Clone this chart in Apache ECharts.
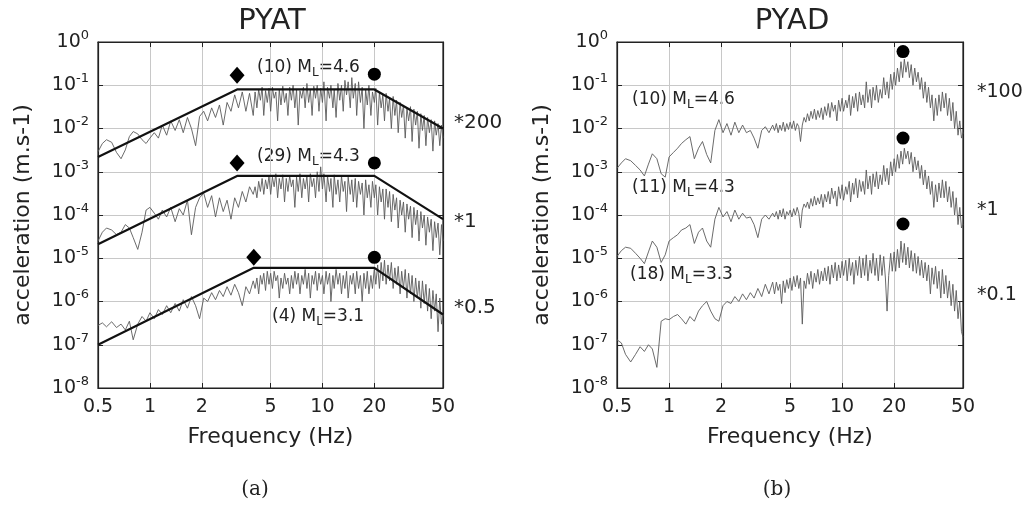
<!DOCTYPE html>
<html>
<head>
<meta charset="utf-8">
<script src="https://cdn.jsdelivr.net/npm/echarts@6/dist/echarts.min.js"></script>
<style>
  html, body { margin: 0; padding: 0; background: #fff; }
  #chart { width: 1023px; height: 526px; }
</style>
</head>
<body>
<div id="chart"></div>
<script>
// frequency samples (Hz), shared by every spectrum; denser above 4 Hz
const freq = [
  0.50, 0.53, 0.56, 0.60, 0.64, 0.68, 0.72, 0.76, 0.80, 0.85, 0.90, 0.95,
  1.00, 1.06, 1.12, 1.18, 1.25, 1.32, 1.40, 1.48, 1.56, 1.65, 1.74, 1.84, 1.94,
  2.05, 2.16, 2.28, 2.40, 2.53, 2.66, 2.80, 2.95, 3.10, 3.26, 3.43, 3.60, 3.78, 3.97,
  4.07, 4.17, 4.27, 4.37, 4.47, 4.57, 4.68, 4.79, 4.90,
  5.01, 5.13, 5.25, 5.37, 5.50, 5.62, 5.75, 5.89, 6.03, 6.17,
  6.31, 6.46, 6.61, 6.76, 6.92, 7.08, 7.24, 7.41, 7.59, 7.76,
  7.94, 8.13, 8.32, 8.51, 8.71, 8.91, 9.12, 9.33, 9.55, 9.77,
  10.0, 10.2, 10.5, 10.7, 11.0, 11.2, 11.5, 11.7, 12.0, 12.3,
  12.6, 12.9, 13.2, 13.5, 13.8, 14.1, 14.5, 14.8, 15.1, 15.5,
  15.8, 16.2, 16.6, 17.0, 17.4, 17.8, 18.2, 18.6, 19.1, 19.5,
  20.0, 20.4, 20.9, 21.4, 21.9, 22.4, 22.9, 23.4, 24.0, 24.5,
  25.1, 25.7, 26.3, 26.9, 27.5, 28.2, 28.8, 29.5, 30.2, 30.9,
  31.6, 32.4, 33.1, 33.9, 34.7, 35.5, 36.3, 37.2, 38.0, 38.9,
  39.8, 40.7, 41.7, 42.7, 43.7, 44.7, 45.7, 46.8, 47.9, 49.0,
  50.0
]

// PYAT spectra (already multiplied by *200, *1, *0.5)
const pyatM46 = [
  2.9e-3, 4.5e-3, 5.5e-3, 4.8e-3, 2.8e-3, 2.0e-3, 3.2e-3, 6.5e-3, 8.5e-3, 7.5e-3, 5.5e-3, 4.5e-3,
  6.0e-3, 8.0e-3, 6.0e-3, 1.2e-2, 7.0e-3, 1.5e-2, 9.0e-3, 1.6e-2, 8.0e-3, 1.8e-2, 1.0e-2, 4.0e-3, 1.9e-2,
  2.5e-2, 1.5e-2, 3.0e-2, 1.8e-2, 3.5e-2, 1.2e-2, 4.0e-2, 2.5e-2, 6.0e-2, 3.0e-2, 7.0e-2, 2.5e-2, 6.5e-2, 2.0e-2,
  7.0e-2, 3.0e-2, 8.0e-2, 4.5e-2, 9.0e-2, 2.0e-2, 7.5e-2, 4.0e-2, 8.5e-2,
  2.5e-2, 9.0e-2, 5.0e-2, 7.0e-2, 1.5e-2, 8.0e-2, 3.5e-2, 9.5e-2, 4.0e-2, 6.5e-2,
  2.0e-2, 9.0e-2, 4.5e-2, 1.0e-1, 3.0e-2, 8.0e-2, 1.2e-2, 7.5e-2, 5.0e-2, 9.0e-2,
  3.0e-2, 1.1e-1, 4.0e-2, 8.0e-2, 2.0e-2, 9.5e-2, 5.0e-2, 1.0e-1, 2.5e-2, 8.5e-2,
  4.0e-2, 1.2e-1, 1.5e-2, 9.0e-2, 5.0e-2, 1.0e-1, 3.0e-2, 8.0e-2, 1.8e-2, 1.1e-1,
  4.5e-2, 1.0e-1, 2.5e-2, 1.3e-1, 6.0e-2, 1.2e-1, 3.0e-2, 1.5e-1, 5.0e-2, 1.1e-1,
  2.0e-2, 1.2e-1, 4.0e-2, 9.0e-2, 1.0e-2, 8.0e-2, 3.5e-2, 1.0e-1, 2.0e-2, 7.0e-2,
  4.0e-2, 8.5e-2, 1.2e-2, 7.0e-2, 3.0e-2, 6.0e-2, 1.5e-2, 6.5e-2, 2.5e-2, 5.0e-2,
  1.0e-2, 5.5e-2, 2.0e-2, 4.5e-2, 8.0e-3, 4.0e-2, 1.8e-2, 3.5e-2, 6.0e-3, 3.0e-2,
  1.5e-2, 3.2e-2, 5.0e-3, 2.8e-2, 1.2e-2, 2.5e-2, 3.5e-3, 2.2e-2, 9.0e-3, 2.0e-2,
  4.0e-3, 1.8e-2, 8.0e-3, 1.6e-2, 3.0e-3, 1.5e-2, 7.0e-3, 1.3e-2, 4.0e-3, 1.2e-2,
  6.0e-3
]
const pyatM43 = [
  2.5e-5, 4.0e-5, 5.0e-5, 4.5e-5, 3.5e-5, 4.0e-5, 6.0e-5, 5.0e-5, 3.0e-5, 1.6e-5, 4.0e-5, 1.3e-4,
  1.5e-4, 1.1e-4, 8.0e-5, 1.3e-4, 9.0e-5, 1.5e-4, 7.0e-5, 1.4e-4, 1.0e-4, 2.2e-4, 3.5e-5, 1.5e-4, 2.5e-4,
  3.2e-4, 1.5e-4, 2.8e-4, 9.0e-5, 2.5e-4, 1.2e-4, 2.2e-4, 8.0e-5, 2.5e-4, 1.5e-4, 3.5e-4, 2.0e-4, 4.5e-4, 3.0e-4,
  4.5e-4, 2.5e-4, 6.0e-4, 3.5e-4, 7.0e-4, 3.0e-4, 6.5e-4, 4.0e-4, 8.0e-4,
  3.0e-4, 7.5e-4, 4.5e-4, 9.0e-4, 2.5e-4, 7.0e-4, 4.0e-4, 8.5e-4, 2.0e-4, 7.0e-4,
  3.5e-4, 8.0e-4, 4.5e-4, 6.5e-4, 1.5e-4, 7.5e-4, 3.5e-4, 9.0e-4, 2.5e-4, 7.0e-4,
  4.0e-4, 8.0e-4, 2.0e-4, 9.0e-4, 4.5e-4, 7.0e-4, 2.5e-4, 1.0e-3, 3.5e-4, 1.3e-3,
  4.0e-4, 9.0e-4, 2.0e-4, 8.0e-4, 3.5e-4, 7.0e-4, 1.5e-4, 8.5e-4, 3.0e-4, 6.5e-4,
  2.0e-4, 8.0e-4, 3.5e-4, 6.0e-4, 1.2e-4, 7.5e-4, 3.0e-4, 6.5e-4, 2.0e-4, 7.0e-4,
  1.5e-4, 6.0e-4, 3.0e-4, 5.5e-4, 1.0e-4, 6.5e-4, 2.5e-4, 5.0e-4, 1.5e-4, 6.0e-4,
  2.5e-4, 5.0e-4, 1.0e-4, 4.5e-4, 2.0e-4, 4.0e-4, 8.0e-5, 4.0e-4, 1.5e-4, 3.5e-4,
  7.0e-5, 3.0e-4, 1.3e-4, 2.5e-4, 5.0e-5, 2.2e-4, 1.0e-4, 2.0e-4, 4.0e-5, 1.8e-4,
  8.0e-5, 1.6e-4, 3.0e-5, 1.5e-4, 6.0e-5, 1.3e-4, 2.5e-5, 1.2e-4, 5.0e-5, 1.0e-4,
  2.0e-5, 9.0e-5, 4.0e-5, 8.0e-5, 1.5e-5, 7.0e-5, 3.0e-5, 6.5e-5, 1.2e-5, 6.0e-5,
  2.5e-5
]
const pyatM31 = [
  2.8e-7, 3.2e-7, 2.6e-7, 3.4e-7, 2.5e-7, 3.0e-7, 2.2e-7, 3.5e-7, 1.3e-7, 3.0e-7, 4.5e-7, 3.5e-7,
  5.5e-7, 4.0e-7, 6.5e-7, 5.0e-7, 8.0e-7, 5.5e-7, 9.0e-7, 6.0e-7, 1.1e-6, 7.0e-7, 1.3e-6, 8.0e-7, 4.0e-7,
  1.2e-6, 1.0e-6, 1.6e-6, 1.1e-6, 1.8e-6, 1.3e-6, 2.2e-6, 1.4e-6, 2.5e-6, 1.6e-6, 8.0e-7, 2.2e-6, 1.5e-6, 3.0e-6,
  2.0e-6, 3.5e-6, 1.5e-6, 4.0e-6, 2.5e-6, 4.5e-6, 1.8e-6, 5.0e-6, 2.5e-6,
  4.5e-6, 2.0e-6, 5.0e-6, 3.0e-6, 4.0e-6, 1.2e-6, 3.5e-6, 2.0e-6, 4.5e-6, 2.5e-6,
  3.5e-6, 1.5e-6, 4.0e-6, 2.0e-6, 5.0e-6, 2.5e-6, 4.5e-6, 1.5e-6, 4.0e-6, 2.5e-6,
  5.5e-6, 2.0e-6, 4.5e-6, 1.2e-6, 4.0e-6, 2.5e-6, 5.0e-6, 1.8e-6, 4.5e-6, 2.5e-6,
  4.0e-6, 1.5e-6, 5.0e-6, 2.5e-6, 4.5e-6, 1.0e-6, 4.0e-6, 2.0e-6, 5.5e-6, 2.5e-6,
  4.5e-6, 1.5e-6, 4.0e-6, 2.0e-6, 5.0e-6, 1.2e-6, 4.0e-6, 2.5e-6, 4.5e-6, 1.5e-6,
  5.0e-6, 2.0e-6, 4.0e-6, 1.0e-6, 4.5e-6, 2.0e-6, 5.0e-6, 1.5e-6, 4.0e-6, 2.0e-6,
  6.0e-6, 2.5e-6, 7.0e-6, 2.0e-6, 8.0e-6, 3.0e-6, 9.0e-6, 2.5e-6, 7.0e-6, 3.0e-6,
  8.0e-6, 2.0e-6, 6.0e-6, 2.5e-6, 6.5e-6, 1.5e-6, 5.0e-6, 2.0e-6, 5.5e-6, 1.2e-6,
  4.5e-6, 1.5e-6, 4.0e-6, 1.0e-6, 3.5e-6, 1.2e-6, 3.0e-6, 7.0e-7, 3.0e-6, 9.0e-7,
  2.5e-6, 6.0e-7, 2.0e-6, 4.0e-7, 1.8e-6, 6.0e-7, 1.5e-6, 2.0e-7, 1.2e-6, 3.0e-7,
  5.0e-7
]

// PYAD spectra (already multiplied by *100, *1, *0.1)
const pyadM46 = [
  1.2e-3, 1.6e-3, 2.0e-3, 1.8e-3, 1.4e-3, 1.1e-3, 8.0e-4, 1.5e-3, 2.6e-3, 2.0e-3, 9.0e-4, 7.5e-4,
  2.2e-3, 2.8e-3, 3.5e-3, 4.5e-3, 5.5e-3, 6.5e-3, 2.0e-3, 3.5e-3, 5.0e-3, 2.5e-3, 1.6e-3, 9.0e-3, 1.6e-2,
  8.0e-3, 1.3e-2, 7.0e-3, 1.4e-2, 8.0e-3, 1.2e-2, 8.0e-3, 9.0e-3, 6.0e-3, 3.5e-3, 9.0e-3, 1.1e-2, 8.0e-3, 1.2e-2,
  9.0e-3, 1.3e-2, 8.0e-3, 1.2e-2, 9.0e-3, 1.4e-2, 8.5e-3, 1.3e-2, 9.5e-3,
  1.4e-2, 1.0e-2, 1.5e-2, 9.0e-3, 1.3e-2, 1.1e-2, 5.0e-3, 1.2e-2, 1.8e-2, 1.4e-2,
  2.2e-2, 1.5e-2, 2.5e-2, 1.7e-2, 2.8e-2, 1.6e-2, 2.6e-2, 1.8e-2, 3.0e-2, 1.6e-2,
  3.2e-2, 2.0e-2, 3.8e-2, 1.8e-2, 4.0e-2, 2.5e-2, 3.5e-2, 1.5e-2, 4.5e-2, 2.5e-2,
  5.0e-2, 2.5e-2, 4.5e-2, 3.0e-2, 6.0e-2, 2.0e-2, 5.5e-2, 3.0e-2, 6.5e-2, 2.5e-2,
  7.0e-2, 3.5e-2, 6.0e-2, 3.0e-2, 1.2e-1, 4.0e-2, 8.0e-2, 3.0e-2, 9.0e-2, 4.5e-2,
  1.0e-1, 4.0e-2, 8.0e-2, 5.0e-2, 1.5e-1, 6.0e-2, 1.2e-1, 5.0e-2, 1.8e-1, 8.0e-2,
  2.0e-1, 1.0e-1, 2.5e-1, 1.2e-1, 3.5e-1, 1.5e-1, 4.0e-1, 2.0e-1, 3.5e-1, 1.5e-1,
  3.0e-1, 1.0e-1, 2.5e-1, 1.2e-1, 2.0e-1, 8.0e-2, 1.5e-1, 5.0e-2, 1.2e-1, 4.0e-2,
  9.0e-2, 3.0e-2, 6.0e-2, 1.5e-2, 5.0e-2, 2.0e-2, 6.0e-2, 2.5e-2, 7.0e-2, 3.0e-2,
  6.5e-2, 2.0e-2, 5.0e-2, 1.5e-2, 4.0e-2, 1.0e-2, 2.5e-2, 7.0e-3, 1.5e-2, 6.0e-3,
  8.0e-3
]
const pyadM43 = [
  1.1e-5, 1.5e-5, 1.8e-5, 1.7e-5, 1.3e-5, 1.0e-5, 7.5e-6, 1.4e-5, 2.5e-5, 1.8e-5, 8.0e-6, 1.2e-5,
  2.5e-5, 3.0e-5, 3.5e-5, 4.5e-5, 5.0e-5, 6.0e-5, 2.2e-5, 4.0e-5, 5.0e-5, 2.5e-5, 1.8e-5, 8.0e-5, 1.5e-4,
  9.0e-5, 1.2e-4, 7.0e-5, 1.3e-4, 8.0e-5, 1.1e-4, 8.5e-5, 9.0e-5, 6.0e-5, 3.0e-5, 8.0e-5, 1.0e-4, 8.0e-5, 1.1e-4,
  9.0e-5, 1.2e-4, 8.0e-5, 1.3e-4, 9.0e-5, 1.4e-4, 8.0e-5, 1.2e-4, 1.0e-4,
  1.3e-4, 9.0e-5, 1.4e-4, 1.0e-4, 1.5e-4, 1.1e-4, 5.0e-5, 1.3e-4, 1.8e-4, 1.5e-4,
  2.0e-4, 1.4e-4, 2.4e-4, 1.6e-4, 2.7e-4, 1.7e-4, 2.5e-4, 1.8e-4, 3.0e-4, 1.5e-4,
  3.0e-4, 2.0e-4, 3.5e-4, 1.8e-4, 4.2e-4, 2.4e-4, 3.6e-4, 1.6e-4, 4.5e-4, 2.4e-4,
  5.0e-4, 2.2e-4, 4.5e-4, 3.0e-4, 6.0e-4, 2.0e-4, 5.5e-4, 3.0e-4, 7.0e-4, 2.5e-4,
  6.5e-4, 3.5e-4, 6.0e-4, 3.0e-4, 1.1e-3, 4.0e-4, 8.0e-4, 3.0e-4, 9.0e-4, 4.5e-4,
  1.0e-3, 4.0e-4, 8.5e-4, 5.0e-4, 1.4e-3, 6.0e-4, 1.2e-3, 5.0e-4, 1.7e-3, 8.0e-4,
  2.0e-3, 1.0e-3, 2.5e-3, 1.2e-3, 3.0e-3, 1.5e-3, 3.5e-3, 2.0e-3, 3.0e-3, 1.5e-3,
  2.8e-3, 1.0e-3, 2.2e-3, 1.1e-3, 1.8e-3, 7.0e-4, 1.4e-3, 5.0e-4, 1.1e-3, 4.0e-4,
  8.0e-4, 3.0e-4, 6.0e-4, 1.5e-4, 5.0e-4, 2.0e-4, 5.5e-4, 2.5e-4, 6.5e-4, 2.5e-4,
  6.0e-4, 2.0e-4, 4.5e-4, 1.5e-4, 3.5e-4, 1.0e-4, 2.5e-4, 6.0e-5, 1.5e-4, 5.0e-5,
  6.0e-5
]
const pyadM33 = [
  1.3e-7, 1.1e-7, 6.0e-8, 4.0e-8, 6.0e-8, 9.0e-8, 7.0e-8, 1.0e-7, 8.0e-8, 3.0e-8, 3.5e-7, 4.0e-7,
  3.8e-7, 4.5e-7, 5.0e-7, 4.0e-7, 3.0e-7, 4.5e-7, 3.5e-7, 6.0e-7, 8.0e-7, 1.0e-6, 6.0e-7, 4.0e-7, 3.5e-7,
  8.0e-7, 1.0e-6, 9.0e-7, 1.3e-6, 1.0e-6, 1.5e-6, 1.1e-6, 1.6e-6, 1.2e-6, 2.0e-6, 1.3e-6, 2.5e-6, 1.5e-6, 2.8e-6,
  1.5e-6, 2.8e-6, 1.8e-6, 2.5e-6, 9.0e-7, 3.0e-6, 1.6e-6, 3.2e-6, 2.0e-6,
  3.5e-6, 1.8e-6, 3.8e-6, 2.2e-6, 4.0e-6, 2.0e-6, 3.5e-6, 3.0e-7, 3.0e-6, 2.0e-6,
  4.5e-6, 2.5e-6, 5.0e-6, 2.0e-6, 4.5e-6, 2.8e-6, 5.5e-6, 2.5e-6, 5.0e-6, 3.0e-6,
  6.0e-6, 3.0e-6, 6.5e-6, 2.5e-6, 7.0e-6, 3.5e-6, 8.0e-6, 3.0e-6, 7.0e-6, 3.5e-6,
  8.5e-6, 4.0e-6, 9.0e-6, 3.0e-6, 1.0e-5, 4.0e-6, 8.0e-6, 2.5e-6, 9.0e-6, 4.0e-6,
  1.1e-5, 3.5e-6, 1.0e-5, 4.0e-6, 1.2e-5, 3.0e-6, 9.0e-6, 4.5e-6, 1.3e-5, 4.0e-6,
  1.0e-5, 3.0e-6, 1.2e-5, 4.0e-6, 1.1e-5, 3.5e-6, 6.0e-7, 4.0e-6, 1.3e-5, 5.0e-6,
  1.4e-5, 5.0e-6, 1.6e-5, 6.0e-6, 2.5e-5, 8.0e-6, 2.2e-5, 7.0e-6, 1.8e-5, 6.0e-6,
  1.5e-5, 5.0e-6, 1.3e-5, 4.5e-6, 1.1e-5, 4.0e-6, 9.0e-6, 3.5e-6, 8.0e-6, 3.0e-6,
  7.0e-6, 1.5e-6, 6.0e-6, 2.5e-6, 6.5e-6, 2.0e-6, 5.0e-6, 1.2e-6, 5.5e-6, 1.5e-6,
  4.0e-6, 1.2e-6, 3.0e-6, 8.0e-7, 2.5e-6, 6.0e-7, 1.8e-6, 4.0e-7, 1.0e-6, 2.0e-7,
  1.5e-7
]

// PYAT model fits (corner-frequency trapezoids)
const fitFreqA = [0.5, 3.2, 20, 50]
const fitM46 = [2.2e-3, 8.0e-2, 8.0e-2, 1.0e-2]
const fitM43 = [2.1e-5, 8.0e-4, 8.0e-4, 8.0e-5]
const fitFreqB = [0.5, 4.0, 20, 50]
const fitM31 = [1.0e-7, 6.0e-6, 6.0e-6, 5.0e-7]

// corner markers
const diamondsA = [[3.2, 0.17], [3.2, 1.6e-3], [4.0, 1.05e-5]]
const circlesA = [[20, 0.18], [20, 1.6e-3], [20, 1.05e-5]]
const circlesB = [[22.5, 0.6], [22.5, 6.0e-3], [22.5, 6.2e-5]]

const xTicks = [0.5, 1, 2, 5, 10, 20, 50]
const yTicks = [1e-8, 1e-7, 1e-6, 1e-5, 1e-4, 1e-3, 1e-2, 1e-1, 1]

const FONT = "DejaVu Sans"
const pairs = (xs, ys) => xs.map((x, i) => [x, ys[i]])

let chart = echarts.init(document.getElementById("chart"))

function xAxisOf(grid, main) {
  return {
    type: "log", logBase: 10, gridIndex: grid, min: 0.5, max: 50,
    position: main ? "bottom" : "top",
    name: main ? "Frequency (Hz)" : "",
    nameLocation: "middle", nameGap: 38,
    nameTextStyle: { fontFamily: FONT, fontSize: 22, color: "#222" },
    axisLine: { show: true, lineStyle: { color: "#222", width: 1.2 } },
    axisTick: { show: true, inside: true, length: 5, customValues: xTicks, lineStyle: { color: "#222" } },
    axisLabel: {
      show: main, customValues: xTicks, margin: 10,
      fontFamily: FONT, fontSize: 19, color: "#222",
      formatter: v => String(v)
    },
    splitLine: { show: main, lineStyle: { color: "#c8c8c8", width: 1 } },
    minorTick: { show: false }
  }
}

function yAxisOf(grid, main) {
  return {
    type: "log", logBase: 10, gridIndex: grid, min: 1e-8, max: 1,
    position: main ? "left" : "right",
    name: main ? "acceleration (m.s-1)" : "",
    nameLocation: "middle", nameGap: 64,
    nameTextStyle: { fontFamily: FONT, fontSize: 22, color: "#222" },
    axisLine: { show: true, lineStyle: { color: "#222", width: 1.2 } },
    axisTick: { show: true, inside: true, length: 5, customValues: yTicks, lineStyle: { color: "#222" } },
    axisLabel: {
      show: main, customValues: yTicks, margin: 9,
      formatter: v => "{b|10}{s|" + Math.round(Math.log10(v)) + "}",
      rich: {
        b: { fontFamily: FONT, fontSize: 19, color: "#222" },
        s: { fontFamily: FONT, fontSize: 13, color: "#222", padding: [0, 0, 13, 0] }
      }
    },
    splitLine: { show: main, lineStyle: { color: "#c8c8c8", width: 1 } }
  }
}

function spectrum(name, xi, ys) {
  return {
    name, type: "line", xAxisIndex: xi, yAxisIndex: xi,
    data: pairs(freq, ys), showSymbol: false, symbol: "none",
    lineStyle: { color: "#5a5a5a", width: 0.9 }, z: 2, animation: false
  }
}

function fit(name, xs, ys) {
  return {
    name, type: "line", xAxisIndex: 0, yAxisIndex: 0,
    data: pairs(xs, ys), showSymbol: false, symbol: "none",
    lineStyle: { color: "#111", width: 2.2 }, z: 3, animation: false
  }
}

function marker(name, xi, data, symbol, size) {
  return {
    name, type: "scatter", xAxisIndex: xi, yAxisIndex: xi, data,
    symbol, symbolSize: size, itemStyle: { color: "#000", opacity: 1 }, z: 4, animation: false
  }
}

function txt(x, y, text, size, align, family) {
  return {
    type: "text", x, y,
    style: {
      text, fontFamily: family || FONT, fontSize: size, fill: "#222",
      align, textAlign: align, verticalAlign: "middle", textVerticalAlign: "middle"
    }
  }
}

function mlText(x, y, text) {
  return {
    type: "text", x, y,
    style: {
      text, fontFamily: FONT, fontSize: 17, fill: "#222",
      align: "left", textAlign: "left", verticalAlign: "middle", textVerticalAlign: "middle",
      rich: {
        n: { fontFamily: FONT, fontSize: 17, fill: "#222", color: "#222" },
        l: { fontFamily: FONT, fontSize: 12, fill: "#222", color: "#222", padding: [10, 0, 0, 0] }
      }
    }
  }
}

chart.setOption({
  animation: false,
  backgroundColor: "#fff",
  grid: [
    { left: 98, top: 42, width: 345, height: 346, show: true, borderColor: "#222", borderWidth: 1.2 },
    { left: 617, top: 42, width: 346, height: 346, show: true, borderColor: "#222", borderWidth: 1.2 }
  ],
  xAxis: [xAxisOf(0, true), xAxisOf(1, true), xAxisOf(0, false), xAxisOf(1, false)],
  yAxis: [yAxisOf(0, true), yAxisOf(1, true), yAxisOf(0, false), yAxisOf(1, false)],
  series: [
    spectrum("PYAT 10", 0, pyatM46),
    spectrum("PYAT 29", 0, pyatM43),
    spectrum("PYAT 4", 0, pyatM31),
    fit("fit 10", fitFreqA, fitM46),
    fit("fit 29", fitFreqA, fitM43),
    fit("fit 4", fitFreqB, fitM31),
    marker("corner fc", 0, diamondsA, "diamond", [15, 17]),
    marker("corner fmax", 0, circlesA, "circle", 13),
    spectrum("PYAD 10", 1, pyadM46),
    spectrum("PYAD 11", 1, pyadM43),
    spectrum("PYAD 18", 1, pyadM33),
    marker("peak", 1, circlesB, "circle", 13)
  ],
  graphic: [
    txt(272, 21, "PYAT", 29, "center"),
    txt(792, 21, "PYAD", 29, "center"),
    mlText(257, 68, "{n|(10) M}{l|L}{n|=4.6}"),
    mlText(257, 157, "{n|(29) M}{l|L}{n|=4.3}"),
    mlText(272, 317, "{n|(4) M}{l|L}{n|=3.1}"),
    mlText(632, 100, "{n|(10) M}{l|L}{n|=4.6}"),
    mlText(632, 188, "{n|(11) M}{l|L}{n|=4.3}"),
    mlText(630, 275, "{n|(18) M}{l|L}{n|=3.3}"),
    txt(454, 123, "*200", 20, "left"),
    txt(454, 222, "*1", 20, "left"),
    txt(454, 308, "*0.5", 20, "left"),
    txt(977, 92, "*100", 19, "left"),
    txt(977, 210, "*1", 19, "left"),
    txt(977, 295, "*0.1", 19, "left"),
    txt(255, 490, "(a)", 20, "center", "DejaVu Serif"),
    txt(777, 490, "(b)", 20, "center", "DejaVu Serif")
  ]
})
</script>
</body>
</html>
